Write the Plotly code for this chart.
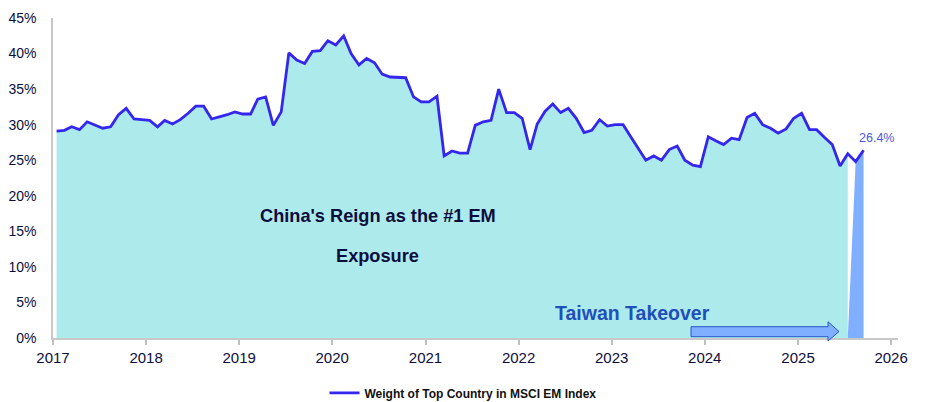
import plotly.graph_objects as go
import pandas as pd

# ---- data ----
start_month = "2017-01-01"      # monthly observations, plotted mid-month
weights = [
    29.1, 29.2, 29.7, 29.3, 30.4, 30.0, 29.5, 29.7, 31.4, 32.3, 30.8, 30.7,   # 2017
    30.6, 29.7, 30.6, 30.1, 30.7, 31.6, 32.6, 32.6, 30.8, 31.1, 31.4, 31.8,   # 2018
    31.5, 31.5, 33.6, 33.9, 29.9, 31.8, 40.1, 39.1, 38.6, 40.3, 40.4, 41.8,   # 2019
    41.2, 42.5, 40.0, 38.4, 39.3, 38.7, 37.1, 36.7, 36.7, 36.6, 33.9, 33.2,   # 2020
    33.2, 34.0, 25.6, 26.3, 26.0, 26.0, 29.9, 30.4, 30.6, 35.0, 31.7, 31.7,   # 2021
    30.9, 26.5, 30.1, 31.9, 32.9, 31.7, 32.3, 30.9, 28.9, 29.2, 30.7, 29.8,   # 2022
    30.0, 30.0, 28.4, 26.7, 25.0, 25.6, 25.0, 26.5, 27.0, 25.0, 24.3, 24.1,   # 2023
    28.3, 27.7, 27.2, 28.1, 27.9, 31.0, 31.6, 30.0, 29.5, 28.8, 29.4, 30.9,   # 2024
    31.6, 29.3, 29.3, 28.2, 27.2, 24.2, 25.9, 24.8, 26.4,                     # 2025
]
china_last_index = 102          # Jul 2025: last month with China as top country
series_name = "Weight of Top Country in MSCI EM Index"
year_ticks = [str(y) for y in range(2017, 2027)]
pct_ticks = list(range(0, 50, 5))

months = pd.date_range(start_month, periods=len(weights), freq="MS") + pd.Timedelta(days=14)
months = list(months)

# ---- colours / layout ----
LINE = "#3526EE"
CYAN = "#ADEAEC"
TAIWAN = "#80AFFF"
NAVY = "#0D0D3D"
FONT = "Liberation Sans"

OFF = 8                      # page body margin
W, H = 927 - OFF, 402 - OFF
L, R, T, B = 53 - OFF, 29, 17.6 - OFF, 64

fig = go.Figure()

# China area
fig.add_trace(go.Scatter(
    x=months[:china_last_index + 1], y=weights[:china_last_index + 1],
    fill="tozeroy", fillcolor=CYAN, mode="none", showlegend=False, hoverinfo="skip"))

# Taiwan area
tw_x = [months[china_last_index]] + months[china_last_index + 1:] + [months[-1]]
tw_y = [0] + weights[china_last_index + 1:] + [0]
fig.add_trace(go.Scatter(
    x=tw_x, y=tw_y, fill="toself", fillcolor=TAIWAN, mode="none",
    showlegend=False, hoverinfo="skip"))

# Line
fig.add_trace(go.Scatter(
    x=months, y=weights, mode="lines", name=series_name,
    line=dict(color=LINE, width=2.8)))

# Last value label
fig.add_annotation(x=months[-1], y=weights[-1], text=f"{weights[-1]:.1f}%",
                   showarrow=False, xanchor="center", yanchor="bottom",
                   xshift=13, yshift=3,
                   font=dict(family=FONT, size=12.5, color="#4A57E0"))

# Text annotations
fig.add_annotation(x="2020-06-28", y=17.1, text="China's Reign as the #1 EM",
                   showarrow=False, xanchor="center", yanchor="middle",
                   font=dict(family=FONT, size=18.2, color=NAVY, weight="bold"))
fig.add_annotation(x="2020-06-28", y=11.5, text="Exposure",
                   showarrow=False, xanchor="center", yanchor="middle",
                   font=dict(family=FONT, size=18.2, color=NAVY, weight="bold"))
fig.add_annotation(x="2023-03-25", y=3.5, text="Taiwan Takeover",
                   showarrow=False, xanchor="center", yanchor="middle",
                   font=dict(family=FONT, size=19.5, color="#1F4FBA", weight="bold"))

# Arrow shape (reference pixel -> paper coordinates)
pw, ph = W - L - R, H - T - B
def px(x):
    return (x - OFF - L) / pw
def py(y):
    return (H - B - (y - OFF)) / ph
pts = [(691, 326.7), (828, 326.7), (828, 321.7), (839, 331.5),
       (828, 341.0), (828, 336.7), (691, 336.7)]
path = "M " + " L ".join(f"{px(a):.5f},{py(b):.5f}" for a, b in pts) + " Z"
fig.add_shape(type="path", path=path, xref="paper", yref="paper",
              fillcolor=TAIWAN, line=dict(color="#2A55C8", width=1), layer="above")

fig.update_layout(
    width=W, height=H,
    margin=dict(l=L, r=R, t=T, b=B, autoexpand=False),
    paper_bgcolor="white", plot_bgcolor="white",
    font=dict(family=FONT, color=NAVY),
    showlegend=True,
    legend=dict(orientation="h", x=px(463), xanchor="center", y=py(393), yanchor="middle",
                font=dict(family=FONT, size=12, color="#111111", weight="bold"),
                itemwidth=30, bgcolor="rgba(0,0,0,0)"),
    xaxis=dict(type="date", range=["2017-01-01", "2026-01-28"],
               tickvals=[f"{y}-01-01" for y in year_ticks], ticktext=year_ticks,
               ticks="outside", ticklen=5, tickcolor="#BFBFBF", tickwidth=1.5,
               showline=True, linecolor="#C8C8C8", linewidth=1.5,
               showgrid=False, zeroline=False,
               tickfont=dict(family=FONT, size=15, color=NAVY)),
    yaxis=dict(range=[0, 45], tickvals=pct_ticks, ticktext=[f"{v}%" for v in pct_ticks],
               ticks="", showline=True, linecolor="#C8C8C8", linewidth=1.5,
               showgrid=False, zeroline=False, ticklabelstandoff=12,
               tickfont=dict(family=FONT, size=14, color=NAVY)),
)

fig.write_html("out.html")
